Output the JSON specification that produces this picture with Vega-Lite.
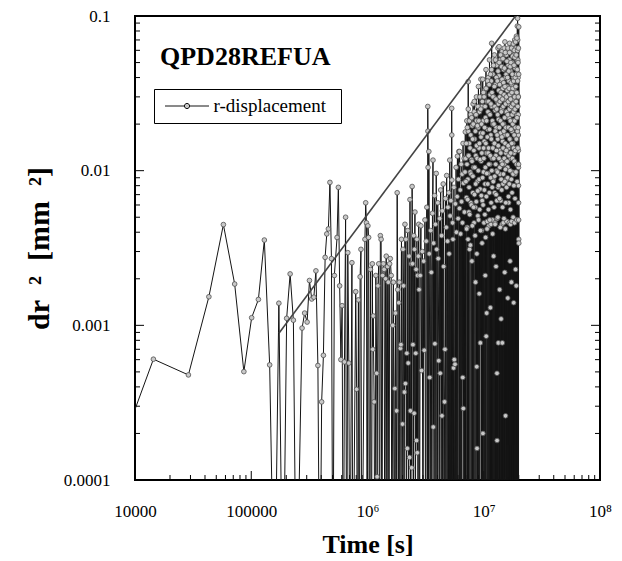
{
"$schema": "https://vega.github.io/schema/vega-lite/v6.json",
"width": 465, "height": 464,
"autosize": {"type": "none"},
"padding": {"left": 135, "top": 16, "right": 22, "bottom": 81},
"background": "white",
"title": {"text": "QPD28REFUA", "anchor": "start", "frame": "group", "font": "Liberation Serif", "fontSize": 26, "fontWeight": "bold", "color": "black", "baseline": "alphabetic", "offset": 0, "dx": 25, "dy": 84},
"datasets": {
"xmaj": [{"t":100000},{"t":1000000},{"t":10000000}],
"xmin": [{"t":20000},{"t":30000},{"t":40000},{"t":50000},{"t":60000},{"t":70000},{"t":80000},{"t":90000},{"t":200000},{"t":300000},{"t":400000},{"t":500000},{"t":600000},{"t":700000},{"t":800000},{"t":900000},{"t":2000000},{"t":3000000},{"t":4000000},{"t":5000000},{"t":6000000},{"t":7000000},{"t":8000000},{"t":9000000},{"t":20000000},{"t":30000000},{"t":40000000},{"t":50000000},{"t":60000000},{"t":70000000},{"t":80000000},{"t":90000000}],
"ymaj": [{"v":0.001},{"v":0.01}],
"ymin": [{"v":0.0002},{"v":0.0003},{"v":0.0004},{"v":0.0005},{"v":0.0006},{"v":0.0007},{"v":0.0008},{"v":0.0009},{"v":0.002},{"v":0.003},{"v":0.004},{"v":0.005},{"v":0.006},{"v":0.007},{"v":0.008},{"v":0.009},{"v":0.02},{"v":0.03},{"v":0.04},{"v":0.05},{"v":0.06},{"v":0.07},{"v":0.08},{"v":0.09}],
"series": [
{"t":7200,"v":0.000146},{"t":14400,"v":0.000604},{"t":28800,"v":0.000478},{"t":43200,"v":0.00153},{"t":57600,"v":0.00448},{"t":72000,"v":0.00185},{"t":86400,"v":0.000502},{"t":100800,"v":0.00112},{"t":115200,"v":0.00147},{"t":129600,"v":0.00356},{"t":144000,"v":0.000555},{"t":158400,"v":1e-5},{"t":172800,"v":0.00139},{"t":187200,"v":1e-5},{"t":201600,"v":0.00111},{"t":216000,"v":0.00215},{"t":230400,"v":0.00108},{"t":244800,"v":1e-5},{"t":273600,"v":0.00096},{"t":288000,"v":0.0012},{"t":302400,"v":0.00105},{"t":316800,"v":0.00195},{"t":331200,"v":0.00148},{"t":345600,"v":0.00152},{"t":360000,"v":0.00225},{"t":374400,"v":0.00055},{"t":388800,"v":1e-5},{"t":403200,"v":0.00032},{"t":417600,"v":0.00064},{"t":432000,"v":0.00275},{"t":446400,"v":0.0039},{"t":460800,"v":0.0042},{"t":475200,"v":0.0084},{"t":489600,"v":0.0027},{"t":504000,"v":1e-5},{"t":518400,"v":0.0021},{"t":547200,"v":0.0037},{"t":561600,"v":0.0078},{"t":576000,"v":0.0018},{"t":590400,"v":0.0006},{"t":604800,"v":0.00134},{"t":619200,"v":1e-5},{"t":633600,"v":0.00058},{"t":648000,"v":0.005},{"t":662400,"v":1e-5},{"t":676800,"v":0.00295},{"t":691200,"v":0.00057},{"t":705600,"v":1e-5},{"t":734400,"v":0.00254},{"t":748800,"v":1e-5},{"t":792000,"v":0.00165},{"t":806400,"v":0.000386},{"t":820800,"v":1e-5},{"t":835200,"v":0.00146},{"t":849600,"v":1e-5},{"t":864000,"v":0.00206},{"t":878400,"v":0.0031},{"t":892800,"v":1e-5},{"t":950400,"v":0.0036},{"t":964800,"v":0.0062},{"t":979200,"v":0.0046},{"t":993600,"v":1e-5},{"t":1008000,"v":0.0044},{"t":1022400,"v":0.0037},{"t":1036800,"v":1e-5},
{"t":1.06e6,"v":0.0023},{"t":1.08e6,"v":1e-5},{"t":1.10e6,"v":0.0025},{"t":1.11e6,"v":0.0007},{"t":1.12e6,"v":0.00115},{"t":1.14e6,"v":0.00032},{"t":1.16e6,"v":1e-5},{"t":1.18e6,"v":0.0021},{"t":1.20e6,"v":0.00049},{"t":1.21e6,"v":0.000105},{"t":1.23e6,"v":0.0018},{"t":1.25e6,"v":0.0025},{"t":1.27e6,"v":1e-5},{"t":1.29e6,"v":0.0038},{"t":1.31e6,"v":0.0036},{"t":1.33e6,"v":1e-5},{"t":1.35e6,"v":0.0021},{"t":1.37e6,"v":0.0025},{"t":1.39e6,"v":0.0023},{"t":1.41e6,"v":1e-5},{"t":1.43e6,"v":0.002},{"t":1.45e6,"v":0.0028},{"t":1.47e6,"v":1e-5},{"t":1.49e6,"v":0.0024},{"t":1.51e6,"v":0.0019},{"t":1.53e6,"v":1e-5},{"t":1.55e6,"v":0.0025},{"t":1.57e6,"v":0.0027},{"t":1.60e6,"v":0.0021},{"t":1.62e6,"v":1e-5},{"t":1.65e6,"v":0.001},{"t":1.67e6,"v":0.0019},{"t":1.70e6,"v":1e-5},{"t":1.72e6,"v":0.00039},{"t":1.74e6,"v":0.0012},{"t":1.76e6,"v":1e-5},{"t":1.78e6,"v":0.00028},{"t":1.80e6,"v":0.0072},{"t":1.82e6,"v":0.0017},{"t":1.84e6,"v":1e-5},{"t":1.86e6,"v":0.0014},{"t":1.88e6,"v":0.0019},{"t":1.90e6,"v":1e-5},{"t":1.92e6,"v":0.00071},{"t":1.94e6,"v":0.00075},{"t":1.96e6,"v":0.0036},{"t":1.98e6,"v":1e-5},{"t":2.00e6,"v":0.00023},{"t":2.02e6,"v":0.0031},{"t":2.04e6,"v":0.0018},{"t":2.06e6,"v":1e-5},{"t":2.08e6,"v":0.00037},{"t":2.10e6,"v":0.0045},{"t":2.12e6,"v":0.00042},{"t":2.14e6,"v":0.0036},{"t":2.16e6,"v":1e-5},{"t":2.18e6,"v":0.00066},{"t":2.20e6,"v":0.00016},{"t":2.22e6,"v":0.0041},{"t":2.24e6,"v":0.00057},{"t":2.26e6,"v":1e-5},{"t":2.28e6,"v":0.0028},{"t":2.30e6,"v":0.00014},{"t":2.32e6,"v":0.0065},{"t":2.34e6,"v":0.00028},{"t":2.36e6,"v":1e-5},{"t":2.38e6,"v":0.0025},{"t":2.40e6,"v":0.00012},{"t":2.42e6,"v":0.0079},{"t":2.44e6,"v":0.0025},{"t":2.46e6,"v":0.00075},{"t":2.48e6,"v":1e-5},{"t":2.50e6,"v":0.0038},{"t":2.52e6,"v":0.00027},{"t":2.54e6,"v":0.0031},{"t":2.56e6,"v":0.0054},{"t":2.58e6,"v":1e-5},{"t":2.60e6,"v":0.00066},{"t":2.62e6,"v":0.0023},{"t":2.64e6,"v":0.00018},{"t":2.66e6,"v":0.0036},{"t":2.68e6,"v":0.00015},{"t":2.70e6,"v":0.0021},{"t":2.72e6,"v":1e-5},{"t":2.74e6,"v":0.0028},{"t":2.76e6,"v":0.0045},{"t":2.78e6,"v":0.0017},{"t":2.80e6,"v":1e-5},
{"t":2.84e6,"v":0.0021},{"t":2.88e6,"v":0.0044},{"t":2.92e6,"v":0.00051},{"t":2.96e6,"v":0.003},{"t":3.00e6,"v":1e-5},{"t":3.04e6,"v":0.0026},{"t":3.08e6,"v":0.00069},{"t":3.12e6,"v":0.0048},{"t":3.16e6,"v":1e-5},{"t":3.20e6,"v":0.0035},{"t":3.24e6,"v":0.0058},{"t":3.28e6,"v":1e-5},{"t":3.30e6,"v":0.026},{"t":3.31e6,"v":0.018},{"t":3.32e6,"v":0.0105},{"t":3.34e6,"v":1e-5},{"t":3.37e6,"v":0.0133},{"t":3.40e6,"v":0.0029},{"t":3.43e6,"v":0.00046},{"t":3.46e6,"v":1e-5},{"t":3.50e6,"v":0.0041},{"t":3.54e6,"v":0.0022},{"t":3.58e6,"v":1e-5},{"t":3.62e6,"v":0.0053},{"t":3.66e6,"v":0.0117},{"t":3.68e6,"v":0.00022},{"t":3.70e6,"v":0.0034},{"t":3.74e6,"v":1e-5},{"t":3.78e6,"v":0.0069},{"t":3.80e6,"v":0.00076},{"t":3.84e6,"v":0.0045},{"t":3.88e6,"v":1e-5},{"t":3.90e6,"v":0.0096},{"t":3.94e6,"v":0.0031},{"t":3.98e6,"v":1e-5},{"t":4.02e6,"v":0.0062},{"t":4.06e6,"v":0.0027},{"t":4.10e6,"v":0.00059},{"t":4.14e6,"v":1e-5},{"t":4.18e6,"v":0.0049},{"t":4.22e6,"v":0.00049},{"t":4.26e6,"v":0.0075},{"t":4.30e6,"v":1e-5},{"t":4.34e6,"v":0.0038},{"t":4.37e6,"v":0.00026},{"t":4.40e6,"v":0.0055},{"t":4.44e6,"v":1e-5},{"t":4.48e6,"v":0.0082},{"t":4.52e6,"v":0.0024},{"t":4.56e6,"v":1e-5},{"t":4.60e6,"v":0.00032},{"t":4.64e6,"v":0.0007},{"t":4.68e6,"v":0.0066},{"t":4.72e6,"v":1e-5},{"t":4.76e6,"v":0.0043},{"t":4.80e6,"v":0.0093},{"t":4.84e6,"v":1e-5},{"t":4.88e6,"v":0.0035},{"t":4.92e6,"v":0.0058},{"t":4.96e6,"v":1e-5},{"t":5.00e6,"v":0.0072},{"t":5.04e6,"v":0.0029},{"t":5.08e6,"v":1e-5},{"t":5.10e6,"v":0.0117},{"t":5.14e6,"v":0.0051},{"t":5.18e6,"v":1e-5},{"t":5.22e6,"v":0.0064},{"t":5.26e6,"v":1e-5},{"t":5.30e6,"v":0.0253},{"t":5.31e6,"v":0.017},{"t":5.32e6,"v":0.0087},{"t":5.36e6,"v":1e-5},{"t":5.40e6,"v":0.0046},{"t":5.44e6,"v":0.0036},{"t":5.48e6,"v":1e-5},{"t":5.50e6,"v":0.00053},{"t":5.54e6,"v":0.0078},{"t":5.58e6,"v":0.0006},{"t":5.62e6,"v":1e-5},{"t":5.66e6,"v":0.00056},{"t":5.70e6,"v":0.0061},{"t":5.74e6,"v":1e-5},{"t":5.78e6,"v":0.0105},{"t":5.82e6,"v":0.004},{"t":5.86e6,"v":1e-5},{"t":5.90e6,"v":0.0068},{"t":5.94e6,"v":0.0124},{"t":5.98e6,"v":1e-5},{"t":6.02e6,"v":0.0049},{"t":6.06e6,"v":0.0088},{"t":6.10e6,"v":0.0133},{"t":6.14e6,"v":1e-5},{"t":6.18e6,"v":0.0057},{"t":6.20e6,"v":0.0133},{"t":6.24e6,"v":1e-5},{"t":6.28e6,"v":0.0075},{"t":6.32e6,"v":0.0039},{"t":6.36e6,"v":1e-5},{"t":6.40e6,"v":0.011},{"t":6.44e6,"v":0.0063},{"t":6.48e6,"v":1e-5},{"t":6.52e6,"v":0.0095},{"t":6.56e6,"v":0.0046},{"t":6.60e6,"v":0.00046},{"t":6.64e6,"v":0.015},{"t":6.67e6,"v":0.00029},{"t":6.70e6,"v":0.0083},{"t":6.74e6,"v":1e-5},{"t":6.78e6,"v":0.012},{"t":6.82e6,"v":0.0054},{"t":6.86e6,"v":1e-5},{"t":6.90e6,"v":0.0098},{"t":6.94e6,"v":0.0178},{"t":6.98e6,"v":1e-5},
{"t":7.00e6,"v":0.012},{"t":7.05e6,"v":1e-5},{"t":7.10e6,"v":0.0067},{"t":7.15e6,"v":0.021},{"t":7.20e6,"v":0.0043},{"t":7.25e6,"v":1e-5},{"t":7.30e6,"v":0.0088},{"t":7.35e6,"v":0.0376},{"t":7.36e6,"v":0.025},{"t":7.37e6,"v":0.018},{"t":7.38e6,"v":0.0125},{"t":7.40e6,"v":1e-5},{"t":7.45e6,"v":0.0054},{"t":7.50e6,"v":0.015},{"t":7.55e6,"v":0.0031},{"t":7.60e6,"v":1e-5},{"t":7.65e6,"v":0.0098},{"t":7.70e6,"v":0.023},{"t":7.75e6,"v":0.0062},{"t":7.80e6,"v":1e-5},{"t":7.85e6,"v":0.0118},{"t":7.90e6,"v":0.0026},{"t":7.95e6,"v":0.0195},{"t":8.00e6,"v":1e-5},{"t":8.05e6,"v":0.0072},{"t":8.10e6,"v":0.027},{"t":8.15e6,"v":0.0105},{"t":8.20e6,"v":1e-5},{"t":8.25e6,"v":0.0046},{"t":8.30e6,"v":0.028},{"t":8.35e6,"v":0.016},{"t":8.40e6,"v":1e-5},{"t":8.45e6,"v":0.0058},{"t":8.50e6,"v":0.0019},{"t":8.55e6,"v":0.0125},{"t":8.60e6,"v":1e-5},{"t":8.65e6,"v":0.03},{"t":8.66e6,"v":0.021},{"t":8.70e6,"v":0.00054},{"t":8.75e6,"v":0.00016},{"t":8.80e6,"v":0.0085},{"t":8.85e6,"v":1e-5},{"t":8.90e6,"v":0.0051},{"t":8.95e6,"v":0.019},{"t":9.00e6,"v":0.035},{"t":9.05e6,"v":1e-5},{"t":9.10e6,"v":0.014},{"t":9.15e6,"v":0.0016},{"t":9.20e6,"v":0.024},{"t":9.25e6,"v":1e-5},{"t":9.30e6,"v":0.0076},{"t":9.35e6,"v":0.00077},{"t":9.40e6,"v":0.0175},{"t":9.45e6,"v":0.039},{"t":9.50e6,"v":0.0115},{"t":9.55e6,"v":1e-5},{"t":9.60e6,"v":0.0041},{"t":9.65e6,"v":0.026},{"t":9.70e6,"v":0.0064},{"t":9.75e6,"v":1e-5},{"t":9.80e6,"v":0.039},{"t":9.84e6,"v":0.0002},{"t":9.90e6,"v":0.021},{"t":9.95e6,"v":0.0098},{"t":10.00e6,"v":1e-5},
{"t":10.05e6,"v":0.0046},{"t":10.10e6,"v":0.0155},{"t":10.15e6,"v":0.033},{"t":10.20e6,"v":1e-5},{"t":10.25e6,"v":0.0082},{"t":10.30e6,"v":0.0021},{"t":10.35e6,"v":0.022},{"t":10.40e6,"v":1e-5},{"t":10.45e6,"v":0.045},{"t":10.50e6,"v":0.00085},{"t":10.55e6,"v":0.013},{"t":10.60e6,"v":0.0012},{"t":10.65e6,"v":1e-5},{"t":10.70e6,"v":0.028},{"t":10.75e6,"v":0.0047},{"t":10.80e6,"v":0.0185},{"t":10.85e6,"v":1e-5},{"t":10.90e6,"v":0.0096},{"t":10.95e6,"v":0.04},{"t":11.00e6,"v":0.014},{"t":11.05e6,"v":1e-5},{"t":11.10e6,"v":0.0044},{"t":11.15e6,"v":0.0235},{"t":11.20e6,"v":0.052},{"t":11.25e6,"v":1e-5},{"t":11.30e6,"v":0.011},{"t":11.35e6,"v":0.031},{"t":11.40e6,"v":0.0013},{"t":11.45e6,"v":1e-5},{"t":11.50e6,"v":0.017},{"t":11.55e6,"v":0.0045},{"t":11.60e6,"v":0.038},{"t":11.65e6,"v":1e-5},{"t":11.70e6,"v":0.0666},{"t":11.75e6,"v":0.026},{"t":11.80e6,"v":0.012},{"t":11.85e6,"v":1e-5},{"t":11.90e6,"v":0.0048},{"t":11.95e6,"v":0.02},{"t":12.00e6,"v":0.042},{"t":12.05e6,"v":1e-5},{"t":12.10e6,"v":0.0088},{"t":12.15e6,"v":0.0028},{"t":12.20e6,"v":0.03},{"t":12.25e6,"v":1e-5},{"t":12.30e6,"v":0.015},{"t":12.35e6,"v":0.056},{"t":12.40e6,"v":0.0072},{"t":12.45e6,"v":1e-5},{"t":12.50e6,"v":0.0046},{"t":12.55e6,"v":0.0245},{"t":12.60e6,"v":0.036},{"t":12.65e6,"v":1e-5},{"t":12.70e6,"v":0.0125},{"t":12.75e6,"v":0.0024},{"t":12.80e6,"v":0.019},{"t":12.85e6,"v":1e-5},{"t":12.90e6,"v":0.048},{"t":12.95e6,"v":0.01},{"t":13.00e6,"v":0.00049},{"t":13.02e6,"v":0.00018},{"t":13.05e6,"v":0.0049},{"t":13.10e6,"v":0.028},{"t":13.15e6,"v":1e-5},{"t":13.20e6,"v":0.016},{"t":13.25e6,"v":0.062},{"t":13.30e6,"v":0.0078},{"t":13.35e6,"v":0.00077},{"t":13.40e6,"v":0.0215},{"t":13.45e6,"v":1e-5},{"t":13.50e6,"v":0.041},{"t":13.55e6,"v":0.0633},{"t":13.60e6,"v":0.0135},{"t":13.65e6,"v":1e-5},{"t":13.70e6,"v":0.0017},{"t":13.75e6,"v":0.03},{"t":13.80e6,"v":0.0095},{"t":13.85e6,"v":1e-5},{"t":13.90e6,"v":0.052},{"t":13.95e6,"v":0.0175},{"t":14.00e6,"v":0.0064},{"t":14.05e6,"v":1e-5},{"t":14.10e6,"v":0.0011},{"t":14.15e6,"v":0.038},{"t":14.20e6,"v":0.0115},{"t":14.25e6,"v":1e-5},{"t":14.30e6,"v":0.025},{"t":14.35e6,"v":0.0045},{"t":14.40e6,"v":0.059},{"t":14.45e6,"v":0.00077},{"t":14.50e6,"v":1e-5},{"t":14.55e6,"v":0.0155},{"t":14.60e6,"v":0.034},{"t":14.65e6,"v":0.0082},{"t":14.70e6,"v":1e-5},{"t":14.75e6,"v":0.0046},{"t":14.80e6,"v":0.045},{"t":14.85e6,"v":0.02},{"t":14.90e6,"v":1e-5},{"t":14.95e6,"v":0.011},
{"t":15.00e6,"v":0.062},{"t":15.05e6,"v":0.029},{"t":15.10e6,"v":1e-5},{"t":15.15e6,"v":0.0022},{"t":15.20e6,"v":0.068},{"t":15.25e6,"v":0.017},{"t":15.30e6,"v":1e-5},{"t":15.35e6,"v":0.0042},{"t":15.40e6,"v":0.00026},{"t":15.45e6,"v":0.04},{"t":15.50e6,"v":0.013},{"t":15.55e6,"v":1e-5},{"t":15.60e6,"v":0.024},{"t":15.65e6,"v":0.056},{"t":15.70e6,"v":0.0088},{"t":15.75e6,"v":1e-5},{"t":15.80e6,"v":0.0047},{"t":15.85e6,"v":0.035},{"t":15.90e6,"v":0.019},{"t":15.95e6,"v":1e-5},{"t":16.00e6,"v":0.06},{"t":16.05e6,"v":0.0105},{"t":16.10e6,"v":0.0015},{"t":16.15e6,"v":1e-5},{"t":16.20e6,"v":0.027},{"t":16.25e6,"v":0.048},{"t":16.30e6,"v":0.014},{"t":16.35e6,"v":1e-5},{"t":16.40e6,"v":0.0062},{"t":16.45e6,"v":0.038},{"t":16.50e6,"v":0.022},{"t":16.55e6,"v":1e-5},{"t":16.60e6,"v":0.0046},{"t":16.65e6,"v":0.052},{"t":16.70e6,"v":0.0666},{"t":16.75e6,"v":1e-5},{"t":16.80e6,"v":0.016},{"t":16.85e6,"v":0.0026},{"t":16.90e6,"v":0.031},{"t":16.95e6,"v":1e-5},{"t":17.00e6,"v":0.0045},{"t":17.05e6,"v":0.044},{"t":17.10e6,"v":0.012},{"t":17.15e6,"v":1e-5},{"t":17.20e6,"v":0.059},{"t":17.25e6,"v":0.025},{"t":17.30e6,"v":0.0019},{"t":17.35e6,"v":1e-5},{"t":17.40e6,"v":0.036},{"t":17.45e6,"v":0.0047},{"t":17.50e6,"v":0.018},{"t":17.55e6,"v":1e-5},{"t":17.60e6,"v":0.05},{"t":17.65e6,"v":0.0098},{"t":17.70e6,"v":0.029},{"t":17.75e6,"v":1e-5},{"t":17.80e6,"v":0.064},{"t":17.85e6,"v":0.015},{"t":17.90e6,"v":0.005},{"t":17.95e6,"v":1e-5},{"t":18.00e6,"v":0.04},{"t":18.05e6,"v":0.021},{"t":18.10e6,"v":0.0014},{"t":18.15e6,"v":1e-5},{"t":18.20e6,"v":0.056},{"t":18.25e6,"v":0.013},{"t":18.30e6,"v":0.033},{"t":18.35e6,"v":1e-5},{"t":18.40e6,"v":0.0046},{"t":18.45e6,"v":0.07},{"t":18.50e6,"v":0.019},{"t":18.55e6,"v":1e-5},{"t":18.60e6,"v":0.0095},{"t":18.65e6,"v":0.046},{"t":18.70e6,"v":0.027},{"t":18.75e6,"v":1e-5},{"t":18.80e6,"v":0.0023},{"t":18.85e6,"v":0.062},{"t":18.90e6,"v":0.0165},{"t":18.95e6,"v":1e-5},{"t":19.00e6,"v":0.038},{"t":19.05e6,"v":0.0018},{"t":19.10e6,"v":0.074},{"t":19.15e6,"v":1e-5},{"t":19.20e6,"v":0.023},{"t":19.25e6,"v":0.0048},{"t":19.30e6,"v":0.052},{"t":19.35e6,"v":1e-5},{"t":19.40e6,"v":0.014},{"t":19.45e6,"v":0.086},{"t":19.50e6,"v":0.031},{"t":19.52e6,"v":1e-5},{"t":19.55e6,"v":0.0966},{"t":19.60e6,"v":0.07},{"t":19.65e6,"v":0.052},{"t":19.70e6,"v":1e-5},{"t":19.75e6,"v":0.04},{"t":19.78e6,"v":0.03},{"t":19.80e6,"v":0.023},{"t":19.83e6,"v":0.017},{"t":19.85e6,"v":0.0135},{"t":19.88e6,"v":0.0105},{"t":19.90e6,"v":0.008},{"t":19.92e6,"v":1e-5},{"t":19.94e6,"v":0.0062},{"t":19.96e6,"v":0.0048},{"t":19.98e6,"v":0.0036},{"t":20.00e6,"v":0.085},{"t":20.02e6,"v":0.0034},
{"t":7.025e6,"v":0.0085},{"t":7.075e6,"v":0.015},{"t":7.125e6,"v":0.0042},{"t":7.175e6,"v":0.011},{"t":7.225e6,"v":0.019},{"t":7.275e6,"v":0.0065},{"t":7.325e6,"v":0.0036},{"t":7.425e6,"v":0.0125},{"t":7.475e6,"v":0.0078},{"t":7.525e6,"v":0.021},{"t":7.575e6,"v":0.0052},{"t":7.625e6,"v":0.014},{"t":7.675e6,"v":0.0033},{"t":7.725e6,"v":0.017},{"t":7.775e6,"v":0.0095},{"t":7.825e6,"v":0.006},{"t":7.875e6,"v":0.022},{"t":7.925e6,"v":0.0115},{"t":7.975e6,"v":0.0044},{"t":8.025e6,"v":0.016},
{"t":8.075e6,"v":0.0092},{"t":8.125e6,"v":0.02},{"t":8.175e6,"v":0.0058},{"t":8.225e6,"v":0.0135},{"t":8.275e6,"v":0.024},{"t":8.325e6,"v":0.007},{"t":8.375e6,"v":0.0105},{"t":8.425e6,"v":0.0038},{"t":8.475e6,"v":0.018},{"t":8.525e6,"v":0.0082},{"t":8.575e6,"v":0.023},{"t":8.625e6,"v":0.0063},{"t":8.675e6,"v":0.0145},{"t":8.725e6,"v":0.0029},{"t":8.775e6,"v":0.012},{"t":8.825e6,"v":0.0195},{"t":8.875e6,"v":0.0074},{"t":8.925e6,"v":0.026},{"t":8.975e6,"v":0.01},{"t":9.025e6,"v":0.0048},
{"t":9.075e6,"v":0.021},{"t":9.125e6,"v":0.0088},{"t":9.175e6,"v":0.015},{"t":9.225e6,"v":0.0056},{"t":9.275e6,"v":0.03},{"t":9.325e6,"v":0.0118},{"t":9.375e6,"v":0.0041},{"t":9.425e6,"v":0.025},{"t":9.475e6,"v":0.0165},{"t":9.525e6,"v":0.0069},{"t":9.575e6,"v":0.02},{"t":9.625e6,"v":0.013},{"t":9.675e6,"v":0.0034},{"t":9.725e6,"v":0.028},{"t":9.775e6,"v":0.009},{"t":9.825e6,"v":0.0175},{"t":9.875e6,"v":0.006},{"t":9.925e6,"v":0.032},{"t":9.975e6,"v":0.014},
{"t":10.025e6,"v":0.012},{"t":10.075e6,"v":0.03},{"t":10.125e6,"v":0.0075},{"t":10.175e6,"v":0.019},{"t":10.225e6,"v":0.0052},{"t":10.275e6,"v":0.026},{"t":10.325e6,"v":0.0105},{"t":10.375e6,"v":0.0037},{"t":10.425e6,"v":0.015},{"t":10.475e6,"v":0.034},{"t":10.525e6,"v":0.0068},{"t":10.575e6,"v":0.021},{"t":10.625e6,"v":0.0096},{"t":10.675e6,"v":0.0042},{"t":10.725e6,"v":0.0165},{"t":10.775e6,"v":0.038},{"t":10.825e6,"v":0.0082},{"t":10.875e6,"v":0.024},{"t":10.925e6,"v":0.013},{"t":10.975e6,"v":0.0056},
{"t":11.025e6,"v":0.028},{"t":11.075e6,"v":0.011},{"t":11.125e6,"v":0.036},{"t":11.175e6,"v":0.0072},{"t":11.225e6,"v":0.0185},{"t":11.275e6,"v":0.0048},{"t":11.325e6,"v":0.023},{"t":11.375e6,"v":0.0125},{"t":11.425e6,"v":0.042},{"t":11.475e6,"v":0.009},{"t":11.525e6,"v":0.027},{"t":11.575e6,"v":0.0062},{"t":11.625e6,"v":0.016},{"t":11.675e6,"v":0.045},{"t":11.725e6,"v":0.01},{"t":11.775e6,"v":0.032},{"t":11.825e6,"v":0.0078},{"t":11.875e6,"v":0.021},{"t":11.925e6,"v":0.0039},{"t":11.975e6,"v":0.014},
{"t":12.025e6,"v":0.03},{"t":12.075e6,"v":0.0085},{"t":12.125e6,"v":0.048},{"t":12.175e6,"v":0.012},{"t":12.225e6,"v":0.02},{"t":12.275e6,"v":0.0058},{"t":12.325e6,"v":0.035},{"t":12.375e6,"v":0.015},{"t":12.425e6,"v":0.0092},{"t":12.475e6,"v":0.026},{"t":12.525e6,"v":0.0045},{"t":12.575e6,"v":0.018},{"t":12.625e6,"v":0.052},{"t":12.675e6,"v":0.011},{"t":12.725e6,"v":0.029},{"t":12.775e6,"v":0.007},{"t":12.825e6,"v":0.04},{"t":12.875e6,"v":0.0135},{"t":12.925e6,"v":0.025},{"t":12.975e6,"v":0.0064},
{"t":13.025e6,"v":0.017},{"t":13.075e6,"v":0.038},{"t":13.125e6,"v":0.0098},{"t":13.175e6,"v":0.023},{"t":13.225e6,"v":0.005},{"t":13.275e6,"v":0.044},{"t":13.325e6,"v":0.0145},{"t":13.375e6,"v":0.027},{"t":13.425e6,"v":0.008},{"t":13.475e6,"v":0.033},{"t":13.525e6,"v":0.012},{"t":13.575e6,"v":0.05},{"t":13.625e6,"v":0.019},{"t":13.675e6,"v":0.0066},{"t":13.725e6,"v":0.036},{"t":13.775e6,"v":0.0105},{"t":13.825e6,"v":0.028},{"t":13.875e6,"v":0.0043},{"t":13.925e6,"v":0.021},{"t":13.975e6,"v":0.056},
{"t":14.025e6,"v":0.013},{"t":14.075e6,"v":0.032},{"t":14.125e6,"v":0.0088},{"t":14.175e6,"v":0.024},{"t":14.225e6,"v":0.047},{"t":14.275e6,"v":0.0075},{"t":14.325e6,"v":0.0165},{"t":14.375e6,"v":0.039},{"t":14.425e6,"v":0.011},{"t":14.475e6,"v":0.029},{"t":14.525e6,"v":0.0058},{"t":14.575e6,"v":0.02},{"t":14.625e6,"v":0.053},{"t":14.675e6,"v":0.014},{"t":14.725e6,"v":0.026},{"t":14.775e6,"v":0.0095},{"t":14.825e6,"v":0.037},{"t":14.875e6,"v":0.018},{"t":14.925e6,"v":0.0049},{"t":14.975e6,"v":0.031},
{"t":15.025e6,"v":0.012},{"t":15.075e6,"v":0.046},{"t":15.125e6,"v":0.022},{"t":15.175e6,"v":0.0085},{"t":15.225e6,"v":0.035},{"t":15.275e6,"v":0.015},{"t":15.325e6,"v":0.058},{"t":15.375e6,"v":0.0102},{"t":15.425e6,"v":0.027},{"t":15.475e6,"v":0.0062},{"t":15.525e6,"v":0.019},{"t":15.575e6,"v":0.042},{"t":15.625e6,"v":0.0135},{"t":15.675e6,"v":0.03},{"t":15.725e6,"v":0.0078},{"t":15.775e6,"v":0.024},{"t":15.825e6,"v":0.051},{"t":15.875e6,"v":0.0115},{"t":15.925e6,"v":0.033},{"t":15.975e6,"v":0.017},
{"t":16.025e6,"v":0.04},{"t":16.075e6,"v":0.009},{"t":16.125e6,"v":0.023},{"t":16.175e6,"v":0.062},{"t":16.225e6,"v":0.0145},{"t":16.275e6,"v":0.028},{"t":16.325e6,"v":0.0068},{"t":16.375e6,"v":0.019},{"t":16.425e6,"v":0.044},{"t":16.475e6,"v":0.0125},{"t":16.525e6,"v":0.034},{"t":16.575e6,"v":0.0082},{"t":16.625e6,"v":0.025},{"t":16.675e6,"v":0.058},{"t":16.725e6,"v":0.016},{"t":16.775e6,"v":0.031},{"t":16.825e6,"v":0.01},{"t":16.875e6,"v":0.047},{"t":16.925e6,"v":0.021},{"t":16.975e6,"v":0.0056},
{"t":17.025e6,"v":0.029},{"t":17.075e6,"v":0.013},{"t":17.125e6,"v":0.05},{"t":17.175e6,"v":0.0185},{"t":17.225e6,"v":0.037},{"t":17.275e6,"v":0.0088},{"t":17.325e6,"v":0.026},{"t":17.375e6,"v":0.062},{"t":17.425e6,"v":0.015},{"t":17.475e6,"v":0.032},{"t":17.525e6,"v":0.0072},{"t":17.575e6,"v":0.023},{"t":17.625e6,"v":0.042},{"t":17.675e6,"v":0.012},{"t":17.725e6,"v":0.055},{"t":17.775e6,"v":0.02},{"t":17.825e6,"v":0.034},{"t":17.875e6,"v":0.0095},{"t":17.925e6,"v":0.027},{"t":17.975e6,"v":0.066},
{"t":18.025e6,"v":0.014},{"t":18.075e6,"v":0.038},{"t":18.125e6,"v":0.024},{"t":18.175e6,"v":0.008},{"t":18.225e6,"v":0.048},{"t":18.275e6,"v":0.017},{"t":18.325e6,"v":0.06},{"t":18.375e6,"v":0.0115},{"t":18.425e6,"v":0.03},{"t":18.475e6,"v":0.021},{"t":18.525e6,"v":0.054},{"t":18.575e6,"v":0.0066},{"t":18.625e6,"v":0.025},{"t":18.675e6,"v":0.04},{"t":18.725e6,"v":0.0135},{"t":18.775e6,"v":0.068},{"t":18.825e6,"v":0.019},{"t":18.875e6,"v":0.035},{"t":18.925e6,"v":0.0098},{"t":18.975e6,"v":0.028},
{"t":19.025e6,"v":0.056},{"t":19.075e6,"v":0.016},{"t":19.125e6,"v":0.042},{"t":19.175e6,"v":0.011},{"t":19.225e6,"v":0.032},{"t":19.275e6,"v":0.072},{"t":19.325e6,"v":0.022},{"t":19.375e6,"v":0.0085},{"t":19.425e6,"v":0.045},{"t":19.475e6,"v":0.018},{"t":19.525e6,"v":0.06},{"t":19.575e6,"v":0.038},{"t":19.625e6,"v":0.026},{"t":19.675e6,"v":0.014},{"t":19.725e6,"v":0.05},{"t":19.775e6,"v":0.019},{"t":19.825e6,"v":0.03},{"t":19.875e6,"v":0.062},{"t":19.925e6,"v":0.011},{"t":19.975e6,"v":0.042}
],
"slope": [{"t":173000,"v":0.00089},{"t":19500000,"v":0.104}]
},
"layer": [
{"data": {"name": "xmaj"},
 "mark": {"type": "tick", "orient": "vertical", "size": 18, "thickness": 1, "color": "black", "opacity": 1, "clip": true},
 "encoding": {
  "x": {"field": "t", "type": "quantitative", "scale": {"type": "log", "domain": [10000, 100000000], "nice": false}, "axis": null},
  "y": {"datum": 0.0001, "type": "quantitative", "scale": {"type": "log", "domain": [0.0001, 0.1], "nice": false}, "axis": null}}},
{"data": {"name": "xmin"},
 "mark": {"type": "tick", "orient": "vertical", "size": 10, "thickness": 1, "color": "black", "opacity": 1, "clip": true},
 "encoding": {
  "x": {"field": "t", "type": "quantitative", "scale": {"type": "log", "domain": [10000, 100000000], "nice": false}, "axis": null},
  "y": {"datum": 0.0001, "type": "quantitative", "scale": {"type": "log", "domain": [0.0001, 0.1], "nice": false}, "axis": null}}},
{"data": {"name": "ymaj"},
 "mark": {"type": "tick", "orient": "horizontal", "size": 18, "thickness": 1, "color": "black", "opacity": 1, "clip": true},
 "encoding": {
  "x": {"datum": 10000, "type": "quantitative", "scale": {"type": "log", "domain": [10000, 100000000], "nice": false}, "axis": null},
  "y": {"field": "v", "type": "quantitative", "scale": {"type": "log", "domain": [0.0001, 0.1], "nice": false}, "axis": null}}},
{"data": {"name": "ymaj"},
 "mark": {"type": "tick", "orient": "horizontal", "size": 18, "thickness": 1, "color": "black", "opacity": 1, "clip": true},
 "encoding": {
  "x": {"datum": 100000000, "type": "quantitative", "scale": {"type": "log", "domain": [10000, 100000000], "nice": false}, "axis": null},
  "y": {"field": "v", "type": "quantitative", "scale": {"type": "log", "domain": [0.0001, 0.1], "nice": false}, "axis": null}}},
{"data": {"name": "ymin"},
 "mark": {"type": "tick", "orient": "horizontal", "size": 10, "thickness": 1, "color": "black", "opacity": 1, "clip": true},
 "encoding": {
  "x": {"datum": 10000, "type": "quantitative", "scale": {"type": "log", "domain": [10000, 100000000], "nice": false}, "axis": null},
  "y": {"field": "v", "type": "quantitative", "scale": {"type": "log", "domain": [0.0001, 0.1], "nice": false}, "axis": null}}},
{"data": {"name": "ymin"},
 "mark": {"type": "tick", "orient": "horizontal", "size": 10, "thickness": 1, "color": "black", "opacity": 1, "clip": true},
 "encoding": {
  "x": {"datum": 100000000, "type": "quantitative", "scale": {"type": "log", "domain": [10000, 100000000], "nice": false}, "axis": null},
  "y": {"field": "v", "type": "quantitative", "scale": {"type": "log", "domain": [0.0001, 0.1], "nice": false}, "axis": null}}},
{"data": {"name": "series"},
 "mark": {"type": "line", "clip": true, "strokeWidth": 1},
 "encoding": {
  "x": {"field": "t", "type": "quantitative", "scale": {"type": "log", "domain": [10000, 100000000], "nice": false},
   "axis": {"orient": "bottom", "values": [10000,100000,1000000,10000000,100000000],
    "labelExpr": "datum.value == 10000 ? '10000' : datum.value == 100000 ? '100000' : datum.value == 1000000 ? '10⁶' : datum.value == 10000000 ? '10⁷' : '10⁸'",
    "ticks": false, "labelPadding": 23, "labelFlush": false, "labelOverlap": false, "title": "Time [s]", "titlePadding": 12}},
  "y": {"field": "v", "type": "quantitative", "scale": {"type": "log", "domain": [0.0001, 0.1], "nice": false},
   "axis": {"orient": "left", "values": [0.0001,0.001,0.01,0.1],
    "labelExpr": "datum.value == 0.0001 ? '0.0001' : datum.value == 0.001 ? '0.001' : datum.value == 0.01 ? '0.01' : '0.1'",
    "ticks": false, "labelPadding": 25, "labelFlush": false, "labelOverlap": false, "title": "dr\u2002²\u2002[mm\u2002²]", "titleFontSize": 30, "titlePadding": 9}},
  "color": {"datum": "r-displacement", "scale": {"range": ["#141414"]},
   "legend": {"orient": "none", "legendX": 19, "legendY": 73, "title": "__", "titleOrient": "right", "titleColor": "white", "titleFontSize": 8, "titlePadding": 0, "titleFont": "Liberation Serif",
    "symbolType": "M-2.2,0H-0.26M0.26,0H2.2M0.26,0A0.26,0.26,0,1,1,-0.26,0A0.26,0.26,0,1,1,0.26,0",
    "symbolSize": 400, "symbolStrokeWidth": 1, "symbolOffset": 16,
    "labelFont": "Liberation Serif", "labelFontSize": 19, "labelColor": "black", "labelOffset": 16,
    "padding": 6.5, "strokeColor": "black", "fillColor": "white",
    "encode": {"symbols": {"update": {"fill": {"value": "#c8c8c8"}, "stroke": {"value": "#555555"}, "strokeWidth": {"value": 1}}}}}}
 }},
{"data": {"name": "series"},
 "mark": {"type": "point", "shape": "circle", "filled": true, "clip": true, "size": 22, "fill": "#c8c8c8", "stroke": "#505050", "strokeWidth": 0.8, "opacity": 1},
 "encoding": {
  "x": {"field": "t", "type": "quantitative", "scale": {"type": "log", "domain": [10000, 100000000], "nice": false}, "axis": null},
  "y": {"field": "v", "type": "quantitative", "scale": {"type": "log", "domain": [0.0001, 0.1], "nice": false}, "axis": null}
 }},
{"data": {"name": "slope"},
 "mark": {"type": "line", "clip": true, "color": "#444444", "strokeWidth": 1.6},
 "encoding": {
  "x": {"field": "t", "type": "quantitative", "scale": {"type": "log", "domain": [10000, 100000000], "nice": false}, "axis": null},
  "y": {"field": "v", "type": "quantitative", "scale": {"type": "log", "domain": [0.0001, 0.1], "nice": false}, "axis": null}
 }},
{"mark": {"type": "rule", "color": "black", "strokeWidth": 1},
 "encoding": {"y": {"datum": 0.00089, "type": "quantitative", "scale": {"type": "log", "domain": [0.0001, 0.1], "nice": false}, "axis": null}}}
],
"resolve": {"axis": {"x": "independent", "y": "independent"}},
"config": {
 "view": {"stroke": "black", "strokeWidth": 2},
 "axis": {"labelFont": "Liberation Serif", "labelFontSize": 17, "labelColor": "black", "titleFont": "Liberation Serif", "titleFontSize": 26, "titleFontWeight": "bold", "titleColor": "black", "grid": false, "domain": false}
}
}
